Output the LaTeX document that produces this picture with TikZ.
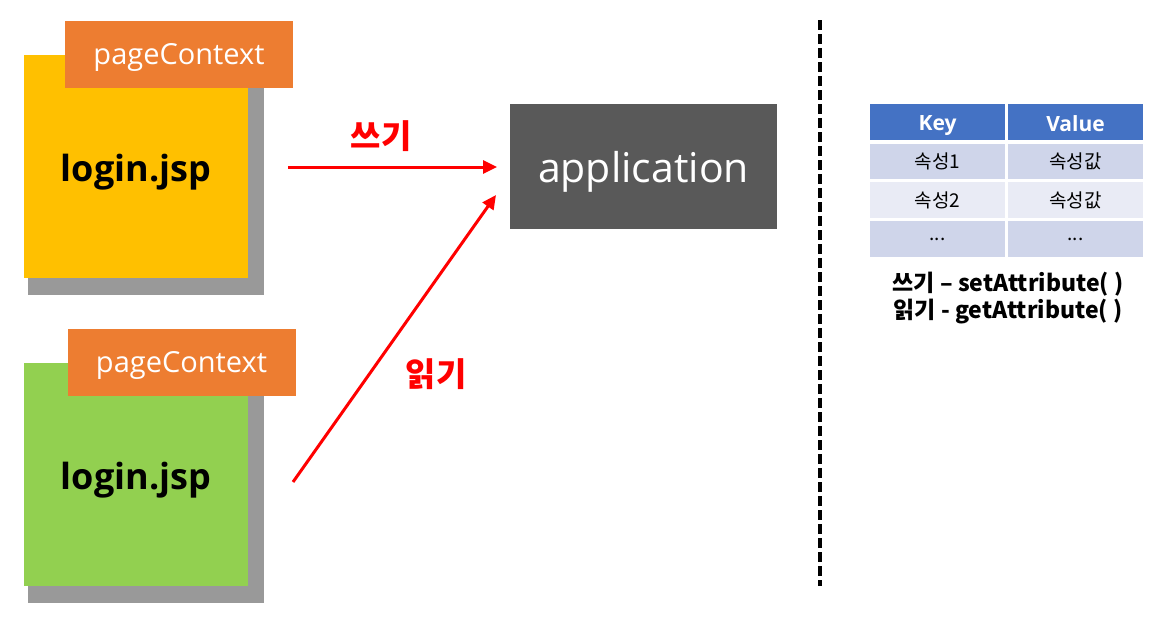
\documentclass[tikz,border=0pt]{standalone}
\usepackage{fontspec}
\setmainfont{Open Sans}
\newfontfamily\kr{Noto Sans CJK KR}
\usetikzlibrary{arrows.meta}
\definecolor{pgyellow}{HTML}{FFC000}
\definecolor{pggreen}{HTML}{92D050}
\definecolor{pgorange}{HTML}{ED7D31}
\definecolor{appgray}{HTML}{595959}
\definecolor{shadowgray}{HTML}{999999}
\definecolor{hdrblue}{HTML}{4472C4}
\definecolor{rowdark}{HTML}{CFD5EA}
\definecolor{rowlight}{HTML}{E9EBF5}
\tikzset{
  page/.style={minimum width=224pt, minimum height=223pt, inner sep=0pt},
  pagetext/.style={font=\fontsize{36}{42}\selectfont\bfseries},
  ctxlabel/.style={fill=pgorange, minimum width=228pt, minimum height=67pt, inner sep=0pt},
  ctxtext/.style={text=white, font=\fontsize{29}{34}\selectfont},
  appbox/.style={fill=appgray, minimum width=267pt, minimum height=125pt, inner sep=0pt},
  apptext/.style={text=white, font=\fontsize{41}{48}\selectfont},
  redarrow/.style={draw=red, line width=3pt, -{Triangle[length=14pt,width=13pt]}},
  redlabel/.style={text=red, font=\kr\fontsize{33}{38}\selectfont\bfseries},
  cell/.style={minimum width=137pt, minimum height=37pt, inner sep=0pt, draw=white, line width=1.5pt, font=\kr\fontsize{19}{22}\selectfont},
  hdr/.style={cell, fill=hdrblue},
  hdrtext/.style={text=white, font=\fontsize{21}{24}\selectfont\bfseries},
  note/.style={font=\kr\fontsize{23}{26}\selectfont\bfseries, align=center}
}
\begin{document}
\begin{tikzpicture}[x=1pt,y=-1pt]
\useasboundingbox (0,0) rectangle (1169,635);
% top page
\fill[shadowgray] (28,72) rectangle (264,295);
\node[page, fill=pgyellow] (p1) at (136,166.5) {};
\node[pagetext] (t1) at ([yshift=-6pt]p1.center) {login.jsp};
\node[ctxlabel] (c1) at (179,54.5) {};
\node[ctxtext] (ct1) at ([yshift=-3pt]c1.center) {pageContext};
% bottom page
\fill[shadowgray] (28,380) rectangle (264,603);
\node[page, fill=pggreen] (p2) at (136,474.5) {};
\node[pagetext] (t2) at ([yshift=-6pt]p2.center) {login.jsp};
\node[ctxlabel] (c2) at (181.5,362.5) {};
\node[ctxtext] (ct2) at ([yshift=-3pt]c2.center) {pageContext};
% application
\node[appbox] (app) at (643.5,166.5) {};
\node[apptext] (appt) at ([yshift=-5pt]app.center) {application};
% arrows
\coordinate (w1) at (288,167);
\coordinate (w2) at (497,167);
\coordinate (r1) at (293,482);
\coordinate (r2) at (496,195);
\draw[redarrow] (w1) -- (w2);
\draw[redarrow] (r1) -- (r2);
\node[redlabel] (wl) at (381,136) {쓰기};
\node[redlabel] (rl) at (436,374) {읽기};
% dashed divider
\coordinate (d1) at (820,20);
\coordinate (d2) at (820,586);
\draw[line width=3.5pt, dash pattern=on 10pt off 4pt] (d1) -- (d2);
% table
\node[hdr] (k0) at (937.5,122) {};
\node[hdr] (v0) at (1075.5,122) {};
\node[hdrtext] (k0t) at ([yshift=-4pt]k0.center) {Key};
\node[hdrtext] (v0t) at ([yshift=-2pt]v0.center) {Value};
\node[cell, fill=rowdark] (k1) at (937.5,161.5) {속성1};
\node[cell, fill=rowdark] (v1) at (1075.5,161.5) {속성값};
\node[cell, fill=rowlight] (k2) at (937.5,200) {속성2};
\node[cell, fill=rowlight] (v2) at (1075.5,200) {속성값};
\node[cell, fill=rowdark] (k3) at (937.5,239) {...};
\node[cell, fill=rowdark] (v3) at (1075.5,239) {...};
\node[note] (n1) at (1008,284) {쓰기 – setAttribute( )};
\node[note] (n2) at (1008,312) {읽기 - getAttribute( )};
\end{tikzpicture}
\end{document}
